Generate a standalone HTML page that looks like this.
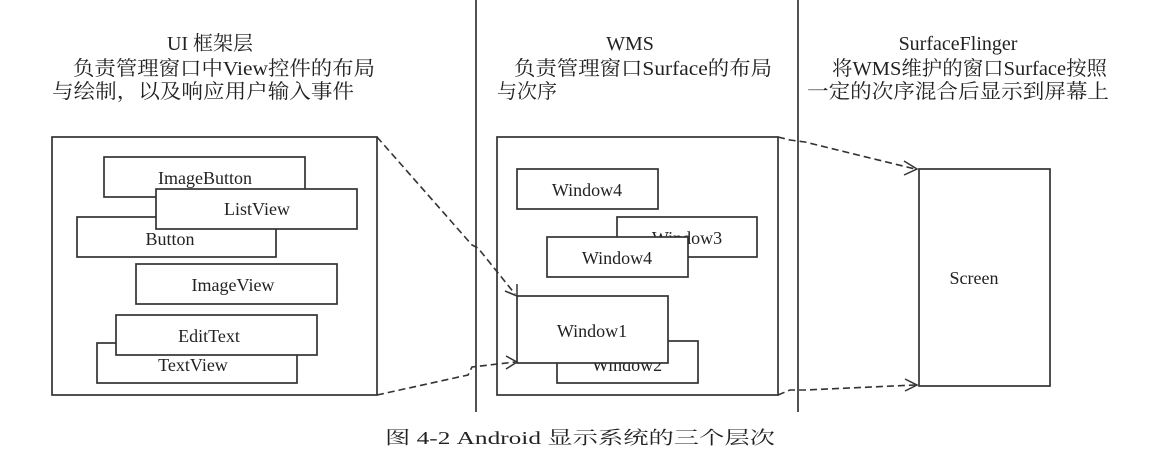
<!DOCTYPE html>
<html><head><meta charset="utf-8"><style>
html,body{margin:0;padding:0;background:#fff;}
svg{display:block;}
text{font-family:"Liberation Serif","Noto Serif CJK SC",serif;fill:#222;}
.h{font-size:20px;}
.b{font-size:18px;}
</style></head><body>
<svg width="1152" height="466" viewBox="0 0 1152 466" xmlns="http://www.w3.org/2000/svg">
<g stroke="#333" stroke-width="1.7" fill="#fff">
<line x1="476" y1="0" x2="476" y2="412"/>
<line x1="798" y1="0" x2="798" y2="412"/>
<rect x="52" y="137" width="325" height="258"/>
<rect x="104" y="157" width="201" height="40"/>
<rect x="77" y="217" width="199" height="40"/>
<rect x="156" y="189" width="201" height="40"/>
<rect x="136" y="264" width="201" height="40"/>
<rect x="97" y="343" width="200" height="40"/>
<rect x="497" y="137" width="281" height="258"/>
<rect x="517" y="169" width="141" height="40"/>
<rect x="617" y="217" width="140" height="40"/>
<rect x="557" y="341" width="141" height="42"/>
<rect x="919" y="169" width="131" height="217"/>
</g>
<g class="b" text-anchor="middle">
<text x="205" y="184">ImageButton</text>
<text x="257" y="215">ListView</text>
<text x="170" y="245">Button</text>
<text x="233" y="291">ImageView</text>
<text x="193" y="371">TextView</text>
<text x="587" y="196">Window4</text>
<text x="687" y="244">Window3</text>
<text x="627" y="371">Window2</text>
<text x="974" y="284">Screen</text>
</g>
<g stroke="#333" stroke-width="1.7" fill="#fff">
<rect x="547" y="237" width="141" height="40"/>
<rect x="517" y="296" width="151" height="67"/>
<rect x="116" y="315" width="201" height="40"/>
</g>
<g class="b" text-anchor="middle">
<text x="617" y="264">Window4</text>
<text x="592" y="337">Window1</text>
<text x="209" y="342">EditText</text>
</g>
<g stroke="#333" stroke-width="1.6" fill="none" stroke-dasharray="7,4">
<polyline points="377,137 472,245 478,248 515,294"/>
<polyline points="377,395 468,375 472,367 515,362"/>
<polyline points="778,137 790,140 805,142 915,169"/>
<polyline points="778,395 790,390 805,390 915,385"/>
</g>
<g stroke="#333" stroke-width="1.5" fill="none">
<polyline points="505,291 517,296 517,284"/>
<polyline points="506,356 517,362 506,369"/>
<polyline points="904,161 917,169 904,175"/>
<polyline points="905,379 917,385 905,391"/>
</g>
<g class="h">
<text x="210" y="50" text-anchor="middle">UI 框架层</text>
<text x="73" y="75" textLength="302" lengthAdjust="spacingAndGlyphs">负责管理窗口中View控件的布局</text>
<text x="52" y="98" textLength="302" lengthAdjust="spacingAndGlyphs">与绘制，以及响应用户输入事件</text>
<text x="630" y="50" text-anchor="middle">WMS</text>
<text x="514" y="75" textLength="258" lengthAdjust="spacingAndGlyphs">负责管理窗口Surface的布局</text>
<text x="497" y="98">与次序</text>
<text x="958" y="50" text-anchor="middle">SurfaceFlinger</text>
<text x="832" y="75" textLength="275" lengthAdjust="spacingAndGlyphs">将WMS维护的窗口Surface按照</text>
<text x="807" y="98" textLength="302" lengthAdjust="spacingAndGlyphs">一定的次序混合后显示到屏幕上</text>
</g>
<text x="385" y="444" style="font-size:18px" textLength="390" lengthAdjust="spacingAndGlyphs">图 4-2  Android 显示系统的三个层次</text>
</svg>
</body></html>
